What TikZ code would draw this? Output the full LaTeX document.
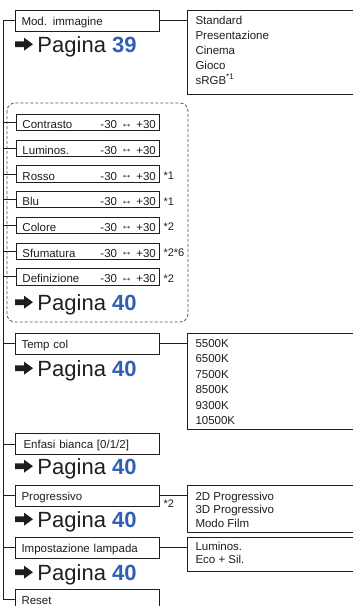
\documentclass[tikz,border=0pt]{standalone}
\usepackage{fontspec}
\setmainfont{Liberation Sans}
\usetikzlibrary{calc}
\definecolor{pblue}{RGB}{48,96,180}
\definecolor{ink}{RGB}{30,30,30}
\tikzset{
  parrow/.pic={\fill (0,-2.8) -- (9,-2.8) -- (9,-6.5) -- (18,0) -- (9,6.5) -- (9,2.8) -- (0,2.8) -- cycle;},
}
\begin{document}
\begin{tikzpicture}[x=1pt,y=-1pt,line width=1pt,draw=ink,text=ink,
  mbox/.style={draw,anchor=north west,minimum width=144,minimum height=20.5,text width=132,inner xsep=6,inner ysep=0,align=left,text height=11,text depth=1.6,font=\fontsize{11.5}{13}\selectfont},
  sbox/.style={draw,anchor=north west,minimum width=143,minimum height=16.3,text width=131,inner xsep=6,inner ysep=0,align=left,text height=12.3,text depth=0.3,font=\fontsize{11.5}{13}\selectfont},
  rbox/.style={draw,anchor=north west,minimum width=180,inner sep=0},
  item/.style={anchor=base west,inner sep=0,font=\fontsize{11.5}{13}\selectfont},
  note/.style={anchor=base west,inner sep=0,font=\fontsize{11}{13}\selectfont},
  pag/.style={anchor=base west,inner sep=0,font=\fontsize{22}{24}\selectfont},
  frame/.style={draw=ink!75,dash pattern=on 3pt off 2pt,rounded corners=8,line width=0.8pt},
]
\useasboundingbox (0,0) rectangle (353,606);
\clip (0,0) rectangle (353,606);
\coordinate (sp) at (3,0);

% main boxes
\node[mbox] (mod) at (15,10) {Mod. immagine};
\node[mbox] (tc)  at (15,333) {Temp col};
\node[mbox,minimum height=21] (enf) at (15,433) {\hspace*{2pt}Enfasi bianca [0/1/2]};
\node[mbox] (prg) at (15,485) {Progressivo};
\node[mbox] (imp) at (15,537) {Impostazione lampada};
\node[mbox] (rst) at (15,589) {Reset};

% dashed group frame
\draw[frame] (7,103) rectangle (188,322);

% sub boxes
\foreach \t [count=\i from 0] in {Contrasto,Luminos.,Rosso,Blu,Colore,Sfumatura,Definizione}{
  \node[sbox] (s\i) at (16,{114+25.7*\i}) {\makebox[78pt][l]{\t}\rlap{-30 \raisebox{1.5pt}{↔} +30}};
  \draw (sp |- s\i.west) -- (s\i.west);
}
\node[note] (n2) at (163,{114+25.7*2+14.15}) {*1};
\node[note] (n3) at (163,{114+25.7*3+14.15}) {*1};
\node[note] (n4) at (163,{114+25.7*4+14.15}) {*2};
\node[note] (n5) at (163,{114+25.7*5+14.15}) {*2*6};
\node[note] (n6) at (163,{114+25.7*6+14.15}) {*2};

% right boxes
\node[rbox,minimum height=84.5] (std) at (187,9.5) {};
\node[rbox,minimum height=96] (kel) at (187,333) {};
\node[rbox,minimum height=47] (pro) at (187,485) {};
\node[rbox,minimum height=34] (lmp) at (187,537) {};

\foreach \t [count=\i from 0] in {Standard,Presentazione,Cinema,Gioco,{sRGB\textsuperscript{*1}}}
  \node[item] (a\i) at (195,{24+15*\i}) {\t};
\foreach \t [count=\i from 0] in {5500K,6500K,7500K,8500K,9300K,10500K}
  \node[item] (b\i) at (195,{347.3+15.5*\i}) {\t};
\foreach \t [count=\i from 0] in {2D Progressivo,3D Progressivo,Modo Film}
  \node[item] (c\i) at (195,{500.5+13.3*\i}) {\t};
\foreach \t [count=\i from 0] in {Luminos.,Eco + Sil.}
  \node[item] (d\i) at (195,{550.3+13.3*\i}) {\t};

\node[note] (pn) at (163,507) {*2};

% connectors
\draw (sp |- mod.west) -- (sp |- rst.west);
\foreach \b in {mod,tc,enf,prg,imp,rst}
  \draw (sp |- \b.west) -- (\b.west);
\draw (mod.east) -- (mod.east -| std.west);
\draw (tc.east) -- (tc.east -| kel.west);
\draw (prg.east) -- (prg.east -| pro.west);
\draw (imp.east) -- (imp.east -| lmp.west);

% page references
\foreach \y/\n [count=\i] in {52/39,310/40,376/40,474/40,527/40,580/40}{
  \node[pag] (p\i) at (37,\y) {Pagina \textcolor{pblue}{\textbf{\n}}};
  \pic[fill=ink] at (15,\y-7.8) {parrow};
}
\end{tikzpicture}
\end{document}
